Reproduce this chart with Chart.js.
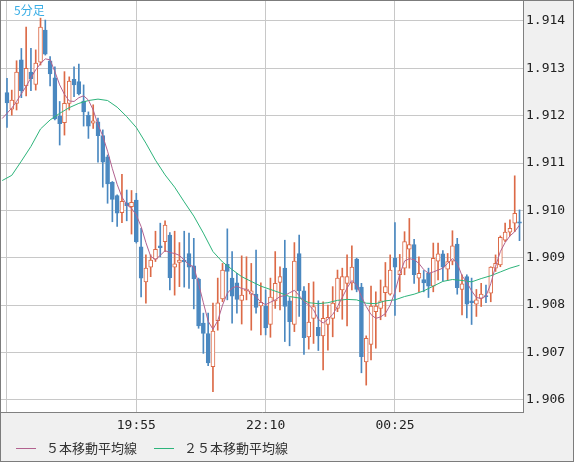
<!DOCTYPE html>
<html>
<head>
<meta charset="utf-8">
<script src="https://cdn.jsdelivr.net/npm/chart.js@4.4.1/dist/chart.umd.min.js"></script>
<style>
html, body { margin: 0; padding: 0; background: #f0f0f0; }
canvas { display: block; }
</style>
</head>
<body>
<canvas id="chart" width="574" height="462"></canvas>
<script>
// 5-minute candles, bar 0 = 17:40
var open = [1.91249,1.91214,1.91226,1.91318,1.91263,1.91292,1.91266,1.91313,1.91381,1.91316,
  1.91280,1.91199,1.91185,1.91226,1.91277,1.91272,1.91231,1.91201,1.91184,1.91187,
  1.91158,1.91113,1.91059,1.91031,1.90995,1.91016,1.91008,1.91022,1.90923,1.90849,
  1.90880,1.90897,1.90925,1.90934,1.90948,1.90880,1.90890,1.90895,1.90909,1.90883,
  1.90855,1.90762,1.90740,1.90670,1.90767,1.90813,1.90886,1.90857,1.90847,1.90810,
  1.90830,1.90823,1.90823,1.90798,1.90798,1.90759,1.90809,1.90848,1.90878,1.90809,
  1.90759,1.90909,1.90830,1.90733,1.90772,1.90753,1.90735,1.90759,1.90772,1.90793,
  1.90832,1.90846,1.90847,1.90897,1.90838,1.90680,1.90717,1.90786,1.90793,1.90826,
  1.90823,1.90899,1.90864,1.90878,1.90918,1.90928,1.90857,1.90854,1.90867,1.90840,
  1.90893,1.90908,1.90876,1.90893,1.90929,1.90833,1.90860,1.90809,1.90802,1.90814,
  1.90820,1.90825,1.90878,1.90885,1.90937,1.90954,1.90973,1.90976];
var high = [1.91279,1.91254,1.91316,1.91342,1.91387,1.91342,1.91339,1.91406,1.91402,1.91325,
  1.91303,1.91230,1.91293,1.91282,1.91303,1.91309,1.91265,1.91208,1.91223,1.91195,
  1.91170,1.91117,1.91061,1.91033,1.91076,1.91043,1.91042,1.91036,1.90962,1.90906,
  1.90906,1.90956,1.90973,1.90978,1.90953,1.90956,1.90932,1.90956,1.90952,1.90941,
  1.90857,1.90783,1.90783,1.90804,1.90857,1.90888,1.90961,1.90913,1.90867,1.90904,
  1.90902,1.90888,1.90916,1.90847,1.90832,1.90857,1.90913,1.90881,1.90937,1.90816,
  1.90932,1.90948,1.90839,1.90846,1.90849,1.90809,1.90807,1.90800,1.90839,1.90874,
  1.90878,1.90906,1.90925,1.90899,1.90846,1.90735,1.90840,1.90828,1.90853,1.90890,
  1.90906,1.90974,1.90907,1.90955,1.90983,1.90939,1.90902,1.90873,1.90878,1.90931,
  1.90931,1.90915,1.90909,1.90957,1.90941,1.90864,1.90864,1.90857,1.90833,1.90846,
  1.90842,1.90881,1.90906,1.90946,1.90973,1.90980,1.91073,1.91001];
var low = [1.91175,1.91201,1.91212,1.91238,1.91242,1.91253,1.91254,1.91307,1.91328,1.91263,
  1.91191,1.91138,1.91159,1.91212,1.91240,1.91244,1.91178,1.91152,1.91173,1.91102,
  1.91049,1.91015,1.90976,1.90966,1.90974,1.90978,1.90950,1.90931,1.90817,1.90804,
  1.90860,1.90892,1.90902,1.90913,1.90832,1.90821,1.90839,1.90838,1.90835,1.90792,
  1.90751,1.90698,1.90672,1.90617,1.90747,1.90807,1.90811,1.90762,1.90783,1.90760,
  1.90811,1.90747,1.90783,1.90737,1.90737,1.90732,1.90793,1.90790,1.90723,1.90714,
  1.90744,1.90776,1.90696,1.90707,1.90719,1.90704,1.90663,1.90705,1.90733,1.90786,
  1.90770,1.90756,1.90832,1.90828,1.90657,1.90631,1.90684,1.90709,1.90769,1.90776,
  1.90821,1.90778,1.90828,1.90864,1.90878,1.90846,1.90828,1.90828,1.90816,1.90828,
  1.90853,1.90851,1.90852,1.90885,1.90823,1.90779,1.90773,1.90759,1.90776,1.90797,
  1.90805,1.90807,1.90871,1.90881,1.90934,1.90946,1.90955,1.90936];
var close = [1.91227,1.91233,1.91292,1.91253,1.91300,1.91278,1.91311,1.91387,1.91330,1.91288,
  1.91193,1.91183,1.91226,1.91273,1.91265,1.91246,1.91208,1.91178,1.91189,1.91158,
  1.91102,1.91056,1.91023,1.90994,1.91019,1.91010,1.91017,1.90934,1.90857,1.90878,
  1.90895,1.90918,1.90921,1.90969,1.90858,1.90887,1.90895,1.90891,1.90880,1.90855,
  1.90756,1.90740,1.90678,1.90745,1.90805,1.90874,1.90871,1.90819,1.90812,1.90821,
  1.90834,1.90830,1.90795,1.90806,1.90752,1.90817,1.90846,1.90860,1.90797,1.90765,
  1.90893,1.90830,1.90731,1.90764,1.90797,1.90735,1.90772,1.90774,1.90804,1.90857,
  1.90860,1.90860,1.90880,1.90833,1.90691,1.90730,1.90798,1.90798,1.90809,1.90839,
  1.90874,1.90880,1.90873,1.90934,1.90928,1.90864,1.90867,1.90847,1.90840,1.90899,
  1.90908,1.90880,1.90892,1.90925,1.90837,1.90845,1.90802,1.90805,1.90811,1.90823,
  1.90818,1.90880,1.90888,1.90943,1.90954,1.90962,1.90994,1.90973];

// 5-bar average, one value per bar starting one bar before bar 0
var ma5 = [1.91194,1.91205,1.91216,1.91230,1.91246,1.91262,1.91280,1.91297,1.91310,1.91320,1.91318,
  1.91293,1.91265,1.91245,1.91231,1.91230,1.91238,1.91242,1.91233,1.91212,1.91181,
  1.91157,1.91125,1.91088,1.91055,1.91028,1.91012,1.91004,1.90990,1.90966,1.90932,
  1.90903,1.90896,1.90905,1.90915,1.90911,1.90909,1.90905,1.90895,1.90885,1.90881,
  1.90845,1.90805,1.90766,1.90749,1.90767,1.90800,1.90825,1.90836,1.90840,1.90835,
  1.90833,1.90825,1.90818,1.90806,1.90801,1.90806,1.90811,1.90818,1.90820,1.90826,
  1.90831,1.90820,1.90808,1.90800,1.90790,1.90770,1.90762,1.90770,1.90780,1.90797,
  1.90816,1.90836,1.90852,1.90842,1.90818,1.90797,1.90780,1.90772,1.90775,1.90782,
  1.90800,1.90828,1.90865,1.90893,1.90898,1.90896,1.90888,1.90875,1.90867,1.90870,
  1.90874,1.90878,1.90888,1.90898,1.90888,1.90862,1.90848,1.90830,1.90816,1.90814,
  1.90819,1.90845,1.90882,1.90913,1.90932,1.90946,1.90955,1.90969];
// 25-bar average, read every second bar starting one bar before bar 0
var ma25 = [1.91063,1.91074,1.91104,1.91135,1.91172,1.91191,1.91205,1.91217,1.91226,1.91232,
  1.91235,1.91232,1.91218,1.91198,1.91175,1.91142,1.91106,1.91075,1.91049,1.91018,
  1.90988,1.90952,1.90913,1.90891,1.90875,1.90860,1.90850,1.90840,1.90833,1.90826,
  1.90818,1.90815,1.90805,1.90803,1.90805,1.90810,1.90812,1.90811,1.90804,1.90803,
  1.90809,1.90811,1.90818,1.90823,1.90830,1.90840,1.90850,1.90854,1.90852,1.90849,
  1.90856,1.90862,1.90870,1.90878,1.90884];

var xTickIdx = [0, 27, 54, 81];
var xTickText = ['', '19:55', '22:10', '00:25'];
var yTicks = [1.906, 1.907, 1.908, 1.909, 1.910, 1.911, 1.912, 1.913, 1.914];

var upColor = '#dc6a47';
var downColor = '#4a88c0';
var isUp = close.map(function (c, i) { return c >= open[i]; });

var decor = {
  id: 'decor',
  beforeDraw: function (chart) {
    var c = chart.ctx, a = chart.chartArea;
    c.save();
    c.fillStyle = '#f0f0f0';
    c.fillRect(0, 0, chart.width, chart.height);
    c.fillStyle = '#ffffff';
    c.fillRect(a.left, a.top, a.right - a.left, a.bottom - a.top);
    c.restore();
  },
  afterDraw: function (chart) {
    var c = chart.ctx;
    c.save();
    c.strokeStyle = '#7c7c7c';
    c.lineWidth = 1;
    c.strokeRect(0.5, 0.5, chart.width - 1, chart.height - 1);
    c.font = '12px "Noto Sans CJK JP"';
    c.fillStyle = '#3aaee6';
    c.textBaseline = 'middle';
    c.fillText('5分足', 14, 10);
    // legend for the two averages
    c.font = '13px "Noto Sans CJK JP"';
    var x = 16, y = 448;
    chart.data.datasets.forEach(function (ds) {
      if (ds.type !== 'line') return;
      c.strokeStyle = ds.borderColor;
      c.beginPath();
      c.moveTo(x, y + 0.5);
      c.lineTo(x + 20, y + 0.5);
      c.stroke();
      c.fillStyle = '#333333';
      c.fillText(ds.label, x + 30, y);
      x += 30 + c.measureText(ds.label).width + 17;
    });
    c.restore();
  }
};

var monoFont = { family: 'DejaVu Sans Mono', size: 13 };

function noPad(s) {
  s.paddingTop = 0;
  s.paddingBottom = 0;
}

new Chart(document.getElementById('chart'), {
  type: 'bar',
  data: {
    datasets: [{
      type: 'line',
      label: '５本移動平均線',
      data: ma5.map(function (v, k) { return { x: k - 1, y: v }; }),
      borderColor: '#b2628f',
      borderWidth: 1,
      pointRadius: 0,
      order: 0
    }, {
      type: 'line',
      label: '２５本移動平均線',
      data: ma25.map(function (v, k) { return { x: k * 2 - 1, y: v }; }),
      borderColor: '#2db47b',
      borderWidth: 1,
      pointRadius: 0,
      order: 0
    }, {
      label: 'body',
      data: open.map(function (o, i) { return { x: i, y: [o, close[i]] }; }),
      barThickness: 4,
      minBarLength: 1,
      backgroundColor: isUp.map(function (u) { return u ? '#ffffff' : downColor; }),
      borderColor: isUp.map(function (u) { return u ? upColor : downColor; }),
      borderWidth: 1,
      borderSkipped: false,
      grouped: false,
      order: 1
    }, {
      label: 'wick',
      data: high.map(function (h, i) { return { x: i, y: [low[i], h] }; }),
      barThickness: 1,
      backgroundColor: isUp.map(function (u) { return u ? upColor : downColor; }),
      borderWidth: 0,
      grouped: false,
      order: 2
    }]
  },
  options: {
    responsive: false,
    animation: false,
    devicePixelRatio: 1,
    events: [],
    layout: { padding: { left: 1, top: 1, right: 0, bottom: 0 } },
    plugins: {
      legend: { display: false },
      tooltip: { enabled: false }
    },
    scales: {
      x: {
        type: 'linear',
        min: -1.25,
        max: 107.73,
        offset: false,
        grid: { color: '#c8c8c8', drawTicks: false, offset: false },
        border: { color: '#808080' },
        afterBuildTicks: function (s) { s.ticks = xTickIdx.map(function (v) { return { value: v }; }); },
        afterFit: function (s) { s.height = 50; s.paddingLeft = 0; s.paddingRight = 0; },
        ticks: {
          autoSkip: false,
          maxRotation: 0,
          padding: 6,
          color: '#222222',
          font: monoFont,
          callback: function (v, k) { return xTickText[k]; }
        }
      },
      y: {
        position: 'right',
        min: 1.905742,
        max: 1.914422,
        grid: { color: '#c8c8c8', drawTicks: false },
        border: { color: '#808080' },
        afterBuildTicks: function (s) { s.ticks = yTicks.map(function (v) { return { value: v }; }); },
        afterFit: function (s) { s.width = 51; noPad(s); },
        ticks: {
          padding: 3,
          color: '#222222',
          font: monoFont,
          callback: function (v) { return v.toFixed(3); }
        }
      }
    }
  },
  plugins: [decor]
});
</script>
</body>
</html>
